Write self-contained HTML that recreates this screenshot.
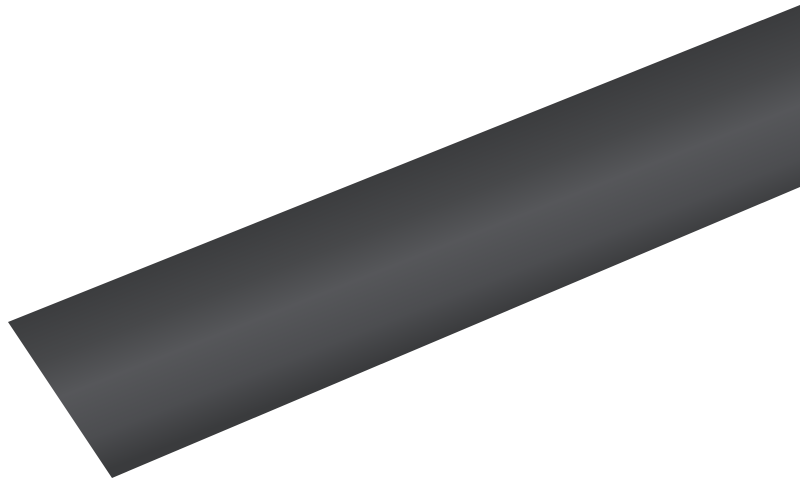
<!DOCTYPE html>
<html><head><meta charset="utf-8"><style>
html,body{margin:0;padding:0;background:#fff;width:800px;height:488px;overflow:hidden}
</style></head><body>
<svg width="800" height="488" viewBox="0 0 800 488" xmlns="http://www.w3.org/2000/svg">
<defs>
<linearGradient id="g" gradientUnits="userSpaceOnUse" x1="410" y1="160" x2="475" y2="325">
<stop offset="0" stop-color="#3b3c3e"/>
<stop offset="0.3" stop-color="#47484a"/>
<stop offset="0.52" stop-color="#56575a"/>
<stop offset="0.8" stop-color="#4c4d50"/>
<stop offset="1" stop-color="#3a3b3d"/>
</linearGradient>
</defs>
<polygon points="8,322 800,5 800,187 112,478" fill="url(#g)"/>
</svg>
</body></html>
